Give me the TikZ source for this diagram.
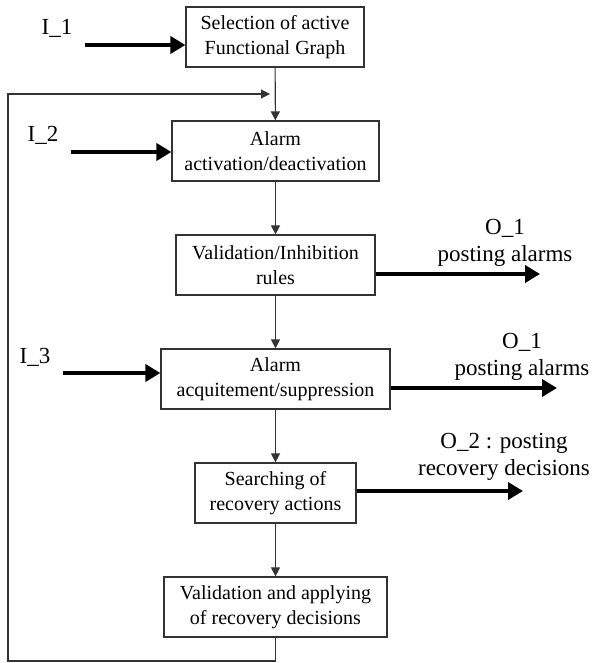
\documentclass[tikz,border=0pt]{standalone}
\usepackage{fontspec}
\setmainfont{Liberation Serif}
\usepackage{tikz}
\usetikzlibrary{arrows.meta, positioning, calc}
\definecolor{cline}{HTML}{333333}

\tikzset{
  blk/.style={draw=cline, line width=0.6pt, align=center, inner sep=0pt,
    minimum height=30pt, font=\fontsize{10}{12.5}\selectfont},
  lbl/.style={align=center, inner sep=0pt, font=\fontsize{11.5}{13.5}\selectfont},
  flow/.style={draw=cline, line width=0.55pt, -{Triangle[length=4.5pt,width=4.5pt]}},
  ioarrow/.style={line width=2.3pt, -{Triangle[length=7.5pt,width=8.5pt]}}
}

\begin{document}
\begin{tikzpicture}[x=0.5pt, y=-0.5pt]
  \useasboundingbox (0,0) rectangle (594,663);

  % processing chain
  \node[blk, minimum width=89pt]    (sel)  at (275,37)    {Selection of active\\Functional Graph};
  \node[blk, minimum width=103.5pt] (act)  at (275.5,151) {Alarm\\activation/deactivation};
  \node[blk, minimum width=99.5pt]  (rules) at (275.5,265) {Validation/Inhibition\\rules};
  \node[blk, minimum width=114.5pt] (ack)  at (275.5,379) {Alarm\\acquitement/suppression};
  \node[blk, minimum width=80.5pt]  (srch) at (275.5,493) {Searching of\\recovery actions};
  \node[blk, minimum width=111.5pt] (apply) at (275.5,607) {Validation and applying\\of recovery decisions};

  \draw[flow] (sel) -- (act);
  \draw[flow] (act) -- (rules);
  \draw[flow] (rules) -- (ack);
  \draw[flow] (ack) -- (srch);
  \draw[flow] (srch) -- (apply);

  % feedback loop
  \coordinate (loopbl) at (8,661);
  \coordinate (loopend) at (270,94);
  \draw[flow] (apply.south) |- (loopbl) |- (loopend);

  % inputs
  \node[lbl] (i1) at (57,28)  {I\_1};
  \node[lbl] (i2) at (43,135) {I\_2};
  \node[lbl] (i3) at (35,357) {I\_3};
  \coordinate (in1) at (85,45);
  \coordinate (in2) at (71,152);
  \coordinate (in3) at (63,373);
  \draw[ioarrow] (in1) -- (in1 -| sel.west);
  \draw[ioarrow] (in2) -- (in2 -| act.west);
  \draw[ioarrow] (in3) -- (in3 -| ack.west);

  % outputs
  \node[lbl] (o1)  at (505,243) {O\_1\\posting alarms};
  \node[lbl] (o1b) at (522,357) {O\_1\\posting alarms};
  \node[lbl] (o2)  at (504,457) {O\_2 : posting\\recovery decisions};
  \coordinate (out1) at (540,274);
  \coordinate (out2) at (557,388);
  \coordinate (out3) at (523,491);
  \draw[ioarrow] (out1 -| rules.east) -- (out1);
  \draw[ioarrow] (out2 -| ack.east) -- (out2);
  \draw[ioarrow] (out3 -| srch.east) -- (out3);
\end{tikzpicture}
\end{document}
